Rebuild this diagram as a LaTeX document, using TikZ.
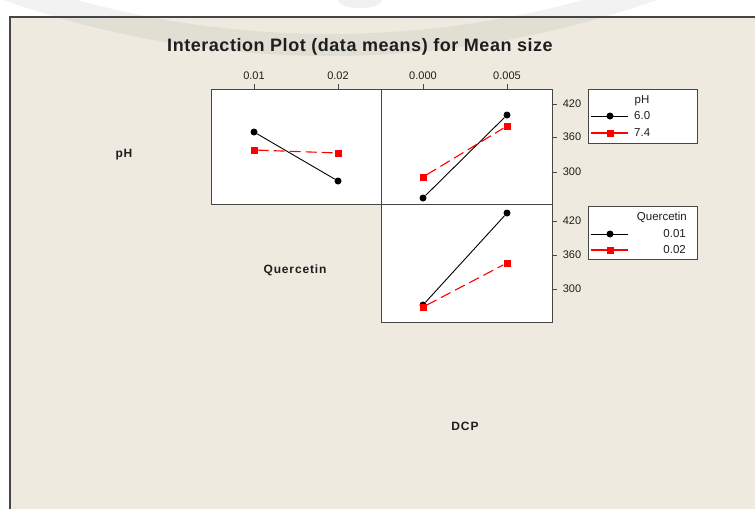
\documentclass[tikz,border=0pt]{standalone}
\usepackage{fontspec}
\setmainfont{Liberation Sans}
\newfontfamily\lblfont{Liberation Sans}[LetterSpace=7]
\newfontfamily\ttlfont{Liberation Sans}[LetterSpace=3]
\definecolor{bgbeige}{RGB}{238,234,224}
\definecolor{frameg}{RGB}{70,70,70}
\definecolor{txtg}{RGB}{30,30,30}
\tikzset{
  panel/.style={draw=frameg, fill=white, line width=1pt, inner sep=0pt},
  legbox/.style={draw=frameg, fill=white, line width=1pt, inner sep=0pt, minimum width=109pt},
  blk/.style={circle, fill=black, inner sep=0pt, minimum size=7pt},
  rsq/.style={rectangle, fill=red, inner sep=0pt, minimum size=7pt},
  blkline/.style={black, line width=0.9pt},
  redline/.style={red, line width=1.1pt, dash pattern=on 11pt off 5pt},
  tickline/.style={frameg, line width=0.9pt},
  ticklbl/.style={font=\fontsize{11}{13}\selectfont, text=txtg, inner sep=0pt},
  leglbl/.style={font=\fontsize{11.5}{13}\selectfont, text=txtg, inner sep=0pt},
  rowlbl/.style={font=\lblfont\bfseries\fontsize{12}{14}\selectfont, text=txtg, inner sep=0pt},
}
\begin{document}
\begin{tikzpicture}[x=1pt,y=-1pt]
\useasboundingbox (0,0) rectangle (755,509);
\fill[white] (0,0) rectangle (755,509);
\fill[bgbeige] (10,17) rectangle (755,509);
% faint watermark
\draw[black, opacity=0.05, line width=22pt] (330,-925) ++(68:970) arc[start angle=68, end angle=112, radius=970];
\fill[black, opacity=0.06] (360,0) ellipse[x radius=22pt, y radius=8pt];
\draw[frameg, line width=1.2pt] (10,509) -- (10,17) -- (755,17);

% title
\node[font=\ttlfont\bfseries\fontsize{18}{21}\selectfont, text=txtg] (title) at (360,47) {Interaction Plot (data means) for Mean size};

% panels
\node[panel, minimum width=170pt, minimum height=115pt] (p1) at (296,146.5) {};
\node[panel, minimum width=171pt, minimum height=115pt] (p2) at (466.5,146.5) {};
\node[panel, minimum width=171pt, minimum height=118pt] (p3) at (466.5,263) {};

% top ticks
\draw[tickline] (254,89) -- (254,84);
\draw[tickline] (338,89) -- (338,84);
\draw[tickline] (423,89) -- (423,84);
\draw[tickline] (507,89) -- (507,84);
\node[ticklbl] (tx1) at (254,76) {0.01};
\node[ticklbl] (tx2) at (338,76) {0.02};
\node[ticklbl] (tx3) at (423,76) {0.000};
\node[ticklbl] (tx4) at (507,76) {0.005};

% right ticks
\foreach \yy/\lab/\nm in {104/420/r1, 137/360/r2, 172/300/r3, 221/420/r4, 255/360/r5, 289/300/r6}{
  \draw[tickline] (552,\yy) -- (557,\yy);
  \node[ticklbl] (\nm) at (572,\yy) {\lab};
}

% row / column labels
\node[rowlbl] (lph) at (124,155) {pH};
\node[rowlbl] (lq) at (295,270) {Quercetin};
\node[rowlbl] (ldcp) at (465,426) {DCP};

% panel 1: pH vs Quercetin
\node[blk] (a1) at (254,132) {};
\node[blk] (a2) at (338,181) {};
\draw[blkline] (a1) -- (a2);
\node[rsq] (b1) at (254,150) {};
\node[rsq] (b2) at (338,153) {};
\draw[redline] (b1) -- (b2);

% panel 2: pH vs DCP
\node[blk] (c1) at (423,198) {};
\node[blk] (c2) at (507,115) {};
\draw[blkline] (c1) -- (c2);
\node[rsq] (d1) at (423,177) {};
\node[rsq] (d2) at (507,126) {};
\draw[redline] (d1) -- (d2);

% panel 3: Quercetin vs DCP
\node[blk] (e1) at (423,305) {};
\node[blk] (e2) at (507,213) {};
\draw[blkline] (e1) -- (e2);
\node[rsq] (f1) at (423,307) {};
\node[rsq] (f2) at (507,263) {};
\draw[redline] (f1) -- (f2);

% legend 1
\node[legbox, minimum height=54pt] (L1) at (642.5,116) {};
\node[leglbl] (L1t) at (642,101) {pH};
\coordinate (L1a) at (591,116); \coordinate (L1b) at (628,116);
\coordinate (L1c) at (591,133); \coordinate (L1d) at (628,133);
\draw[black, line width=1pt] (L1a) -- (L1b);
\draw[red, line width=1.1pt] (L1c) -- (L1d);
\node[blk] (L1m1) at (610,116) {};
\node[rsq] (L1m2) at (610,133) {};
\node[leglbl, anchor=west] (L1l1) at (634,116) {6.0};
\node[leglbl, anchor=west] (L1l2) at (634,133) {7.4};

% legend 2
\node[legbox, minimum height=53pt] (L2) at (642.5,232.5) {};
\node[leglbl, anchor=east] (L2t) at (687,217) {Quercetin};
\coordinate (L2a) at (591,234); \coordinate (L2b) at (628,234);
\coordinate (L2c) at (591,250); \coordinate (L2d) at (628,250);
\draw[black, line width=1pt] (L2a) -- (L2b);
\draw[red, line width=1.1pt] (L2c) -- (L2d);
\node[blk] (L2m1) at (610,234) {};
\node[rsq] (L2m2) at (610,250) {};
\node[leglbl, anchor=east] (L2l1) at (686,234) {0.01};
\node[leglbl, anchor=east] (L2l2) at (686,250) {0.02};
\end{tikzpicture}
\end{document}
